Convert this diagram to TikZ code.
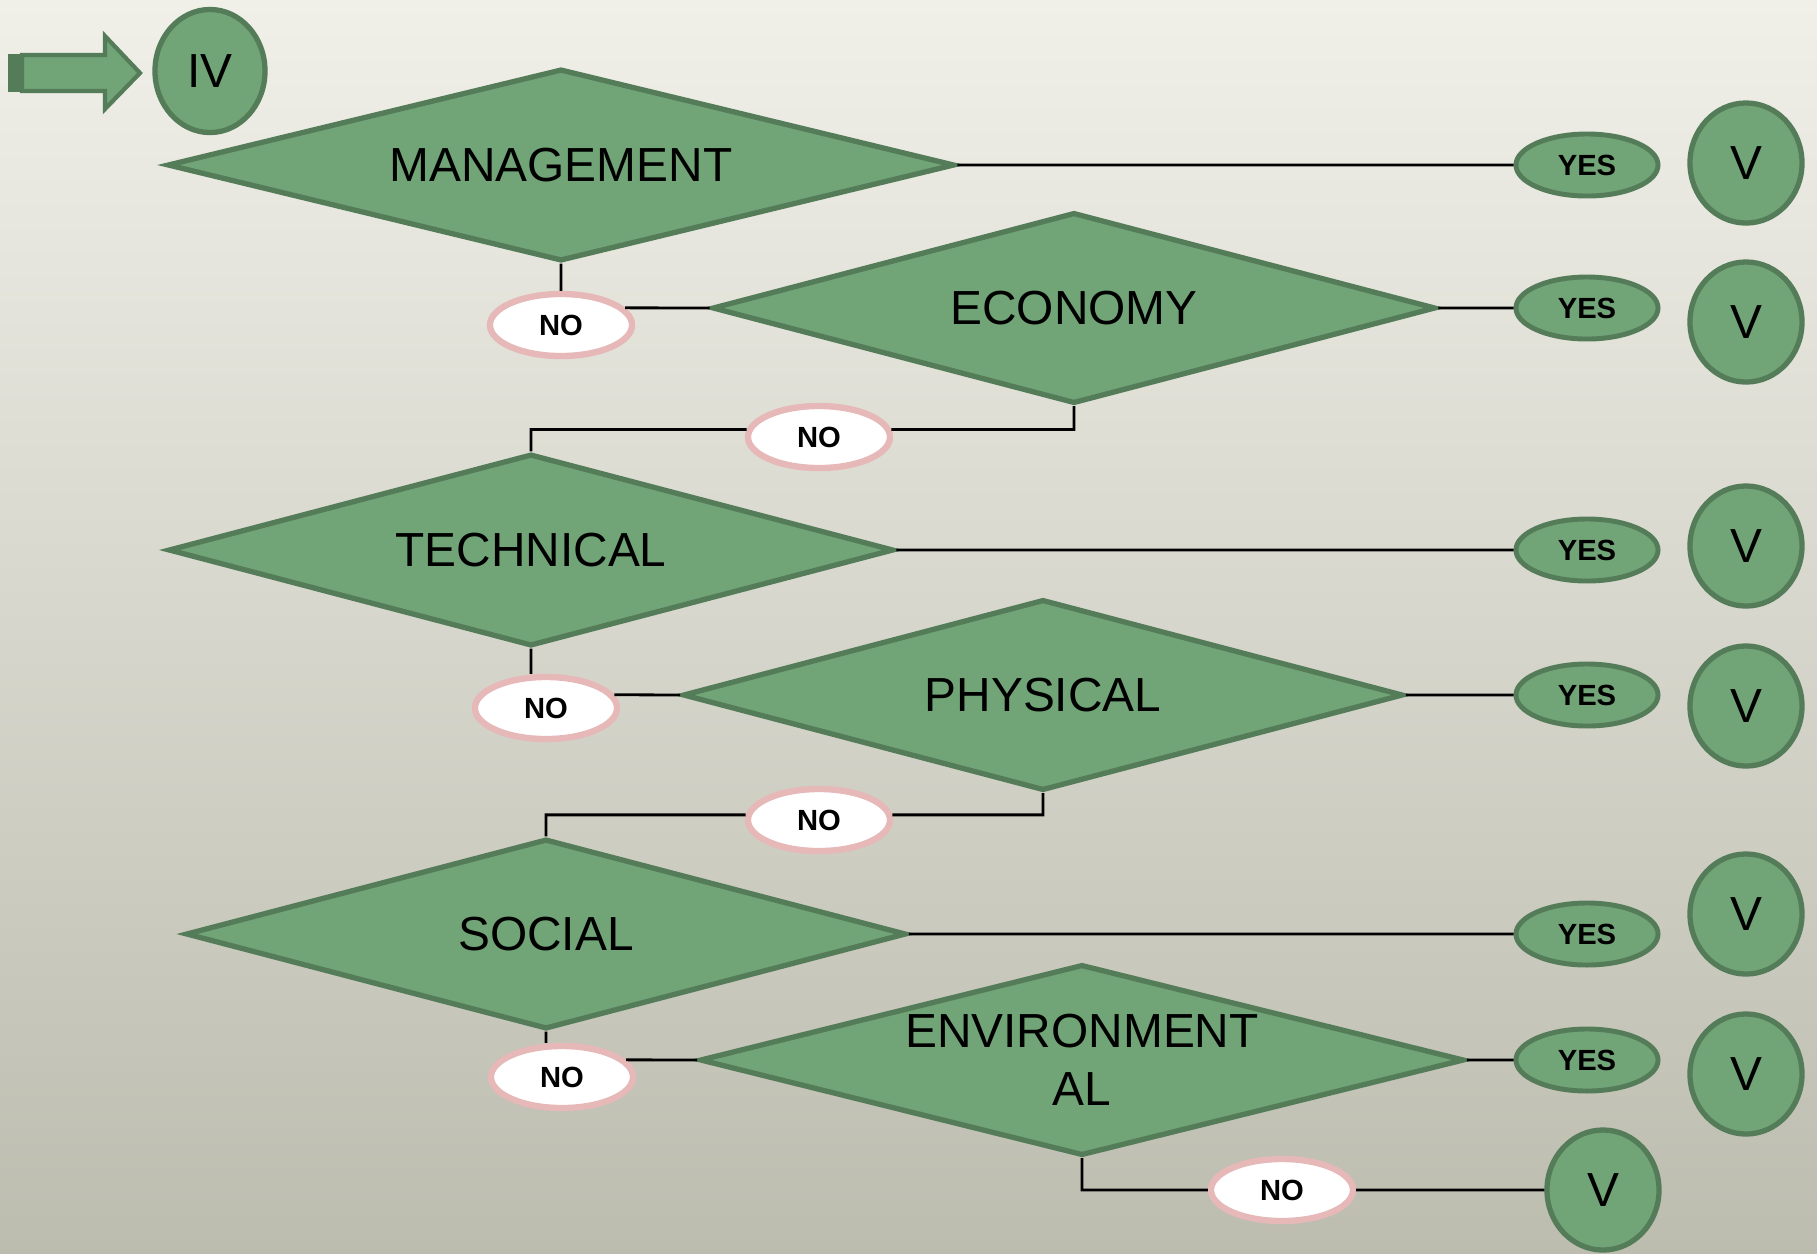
\documentclass[tikz,border=0pt]{standalone}
\usepackage{fontspec}
\setmainfont{Liberation Sans}
\usetikzlibrary{shapes.geometric}
\definecolor{leaf}{RGB}{113,164,118}
\definecolor{leafdark}{RGB}{84,124,88}
\definecolor{rosy}{RGB}{230,184,183}
\definecolor{bgtop}{RGB}{240,240,233}
\definecolor{bgmid}{RGB}{226,227,215}
\definecolor{bgbot}{RGB}{188,188,175}
\begin{document}
\begin{tikzpicture}[x=0.01cm,y=-0.01cm,
	crit/.style={diamond,draw=leafdark,fill=leaf,line width=1.5pt,inner sep=0pt,shape aspect=4,align=center,font=\fontsize{13.6}{16.5}\selectfont},
	yes/.style={ellipse,draw=leafdark,fill=leaf,line width=1.4pt,minimum width=1.42cm,minimum height=0.62cm,inner sep=0pt,font=\fontsize{8.3}{10}\selectfont\bfseries},
	no/.style={yes,draw=rosy,fill=white,line width=1.8pt},
	lvl/.style={ellipse,draw=leafdark,fill=leaf,line width=1.5pt,minimum width=1.12cm,minimum height=1.2cm,inner sep=0pt,font=\fontsize{13.6}{16.5}\selectfont},
	link/.style={draw=black,line width=0.8pt}]
		\useasboundingbox (0,0) rectangle (1817,1253);
		\shade[top color=bgtop,middle color=bgmid,bottom color=bgbot] (0,0) rectangle (1817,1253);
		\fill[leafdark] (8,54) rectangle (22,92);
		\draw[leafdark,fill=leaf,line width=1.2pt] (22,55) -- (105,55) -- (105,36) -- (140,73) -- (105,109) -- (105,91) -- (22,91) -- cycle;
		\node[lvl,minimum width=1.1cm,minimum height=1.23cm] (iv) at (210,71) {IV};
		\node[crit,minimum width=7.87cm,minimum height=1.92cm] (mgmt) at (561,165) {MANAGEMENT};
		\node[crit,minimum width=7.23cm,minimum height=1.91cm] (eco) at (1074,308) {ECONOMY};
		\node[crit,minimum width=7.25cm,minimum height=1.92cm] (tech) at (531,550) {TECHNICAL};
		\node[crit,minimum width=7.2cm,minimum height=1.91cm] (phys) at (1043,695) {PHYSICAL};
		\node[crit,minimum width=7.2cm,minimum height=1.9cm] (soc) at (546,934) {SOCIAL};
		\node[crit,minimum width=7.64cm,minimum height=1.91cm] (env) at (1082,1060) {ENVIRONMENT\\AL};
		\node[yes] (yes1) at (1587,165) {YES};
		\node[yes] (yes2) at (1587,308) {YES};
		\node[yes] (yes3) at (1587,550) {YES};
		\node[yes] (yes4) at (1587,695) {YES};
		\node[yes] (yes5) at (1587,934) {YES};
		\node[yes] (yes6) at (1587,1060) {YES};
		\node[lvl] (v1) at (1746,163) {V};
		\node[lvl] (v2) at (1746,322) {V};
		\node[lvl] (v3) at (1746,546) {V};
		\node[lvl] (v4) at (1746,706) {V};
		\node[lvl] (v5) at (1746,914) {V};
		\node[lvl] (v6) at (1746,1074) {V};
		\node[lvl] (vend) at (1603,1190) {V};
		\node[no] (no1) at (561,325) {NO};
		\node[no] (no2) at (819,437) {NO};
		\node[no] (no3) at (546,708) {NO};
		\node[no] (no4) at (819,820) {NO};
		\node[no] (no5) at (562,1077) {NO};
		\node[no] (no6) at (1282,1190) {NO};
		\draw[link] (mgmt.east) -- (yes1.west)
		(mgmt.south) -- (no1.north)
		(no1.15) -- (eco.west)
		(eco.east) -- (yes2.west)
		(eco.south) |- (no2.6)
		(no2.174) -| (tech.north);
		\draw[link] (tech.east) -- (yes3.west)
		(tech.south) -- (tech.south |- no3.north)
		(no3.11) -- (phys.west)
		(phys.east) -- (yes4.west)
		(phys.south) |- (no4.4)
		(no4.176) -| (soc.north);
		\draw[link] (soc.east) -- (yes5.west)
		(soc.south) -- (soc.south |- no5.north)
		(no5.15) -- (env.west)
		(env.east) -- (yes6.west)
		(env.south) |- (no6.west)
		(no6.east) -- (vend.west);
	\end{tikzpicture}
\end{document}
